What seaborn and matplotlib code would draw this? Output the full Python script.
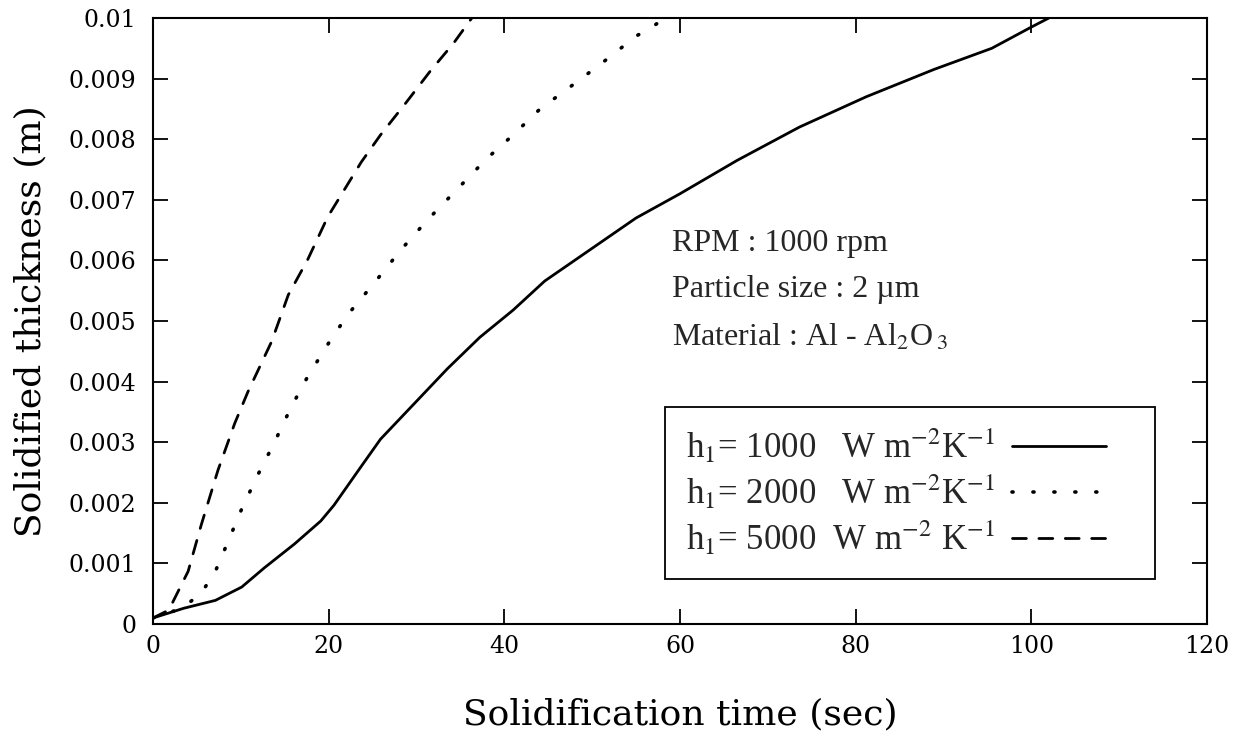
import numpy as np
import pandas as pd
import matplotlib
matplotlib.use("Agg")
import matplotlib.pyplot as plt
import seaborn as sns

# Data
t_1000 = [0, 3.5, 7.1, 10.1, 12.7, 16.1, 19.1, 20.6, 23.7, 25.9, 29.7, 33.5, 37.2, 41.0,
          44.6, 50.0, 55.0, 60.0, 66.5, 73.6, 81.2, 88.9, 95.5, 100.0, 102.0]
s_1000 = [0.0001, 0.00026, 0.00039, 0.00061, 0.00093, 0.00132, 0.0017, 0.00196, 0.0026,
          0.00305, 0.00363, 0.00421, 0.00473, 0.00518, 0.00566, 0.0062, 0.0067, 0.0071,
          0.00765, 0.0082, 0.0087, 0.00915, 0.0095, 0.00985, 0.0100]

t_2000 = [0, 3.3, 5.5, 7.1, 8.6, 10.1, 12.0, 13.8, 15.7, 17.6, 20.1, 22.2, 25.2, 28.2,
          31.2, 35.0, 38.0, 41.0, 44.0, 48.3, 51.5, 55.0, 57.2, 58.3]
s_2000 = [0.0001, 0.00026, 0.00051, 0.00087, 0.00138, 0.0019, 0.00248, 0.00299, 0.00357,
          0.00408, 0.00466, 0.00511, 0.00563, 0.00617, 0.00666, 0.00723, 0.00768, 0.00807,
          0.00849, 0.00895, 0.0093, 0.0097, 0.00989, 0.0100]

t_5000 = [0, 1.8, 4.0, 5.5, 7.4, 9.3, 10.8, 13.5, 15.4, 17.6, 19.9, 21.8, 23.7, 25.9,
          28.9, 31.6, 34.2, 36.3]
s_5000 = [0.0001, 0.00023, 0.00087, 0.00164, 0.00254, 0.00331, 0.00383, 0.00466, 0.00543,
          0.00601, 0.00672, 0.00717, 0.00762, 0.00807, 0.00862, 0.00913, 0.00958, 0.0100]

labels = [r"h$_1$= 1000   W m$^{-2}$K$^{-1}$",
          r"h$_1$= 2000   W m$^{-2}$K$^{-1}$",
          r"h$_1$= 5000  W m$^{-2}$ K$^{-1}$"]

x_ticks = [0, 20, 40, 60, 80, 100, 120]
y_ticks = [0, 0.001, 0.002, 0.003, 0.004, 0.005, 0.006, 0.007, 0.008, 0.009, 0.01]
y_ticklabels = ["0", "0.001", "0.002", "0.003", "0.004", "0.005", "0.006", "0.007",
                "0.008", "0.009", "0.01"]

sns.set_theme(style="ticks")
plt.rcParams["font.family"] = ["Liberation Serif", "DejaVu Serif"]
plt.rcParams["mathtext.fontset"] = "stix"

fig = plt.figure(figsize=(12.41, 7.37), dpi=100)
ax = fig.add_axes([0.1233, 0.1533, 0.8493, 0.8223])

series = [(t_1000, s_1000, "-", 2.0, labels[0]),
          (t_2000, s_2000, (0, (0.3, 5.5)), 2.6, labels[1]),
          (t_5000, s_5000, (0, (5.0, 4.5)), 2.0, labels[2])]
for t, s, ls, lw, lab in series:
    df = pd.DataFrame({"t": t, "s": s})
    sns.lineplot(data=df, x="t", y="s", ax=ax, color="black", linestyle=ls,
                 linewidth=lw, label=lab, sort=False, dash_capstyle="round")

ax.set_xlim(0, 120)
ax.set_ylim(0, 0.01)
ax.set_xticks(x_ticks)
ax.set_yticks(y_ticks)
ax.set_yticklabels(y_ticklabels)
ax.tick_params(direction="in", length=11, width=1.3, top=True, right=True,
               labelsize=17, colors="black")
ax.tick_params(axis="y", pad=12)
ax.tick_params(axis="x", pad=8)
for lab in ax.get_xticklabels() + ax.get_yticklabels():
    lab.set_family("DejaVu Serif")
for sp in ax.spines.values():
    sp.set_color("black")
    sp.set_linewidth(1.5)

ax.set_xlabel("Solidification time (sec)", fontsize=26, labelpad=28, color="black",
              family="DejaVu Serif")
ax.set_ylabel("Solidified thickness (m)", fontsize=26, color="black",
              family="DejaVu Serif")
ax.yaxis.set_label_coords(-0.1, 0.5)

ax.text(0.4925, 0.628, "RPM : 1000 rpm", transform=ax.transAxes, fontsize=23, va="center")
ax.text(0.4925, 0.552, "Particle size : 2 \u00b5m", transform=ax.transAxes,
        fontsize=23, va="center")
ax.text(0.4925, 0.472, r"Material : Al - Al$_2$O$\,_3$", transform=ax.transAxes,
        fontsize=23, va="center")

leg = ax.legend(loc="upper left", bbox_to_anchor=(0.486, 0.3586, 0.465, 0.0),
                mode="expand", markerfirst=False, fontsize=25, frameon=True,
                fancybox=False, edgecolor="black", handlelength=2.7,
                labelspacing=0.22, borderpad=0.6, handletextpad=0.5,
                borderaxespad=0.0)
leg.get_frame().set_linewidth(1.3)
leg.get_frame().set_alpha(1)

fig.savefig("out.png", dpi=100, facecolor="white")
